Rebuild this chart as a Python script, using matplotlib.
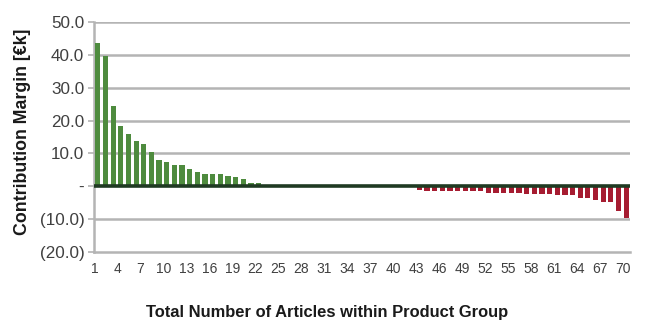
import matplotlib
matplotlib.use("Agg")
import matplotlib.pyplot as plt
from matplotlib.ticker import FuncFormatter, FixedLocator

# Contribution margin per article, sorted from best to worst [€k]
articles = list(range(1, 71))
margins = [
    43.5, 39.7, 24.5, 18.4, 16.0, 13.8, 12.9, 10.5, 8.0, 7.4,
    6.5, 6.4, 5.2, 4.5, 3.6, 3.6, 3.6, 3.0, 2.7, 2.1,
    0.9, 0.9, 0.0, 0.0, 0.0, 0.0, 0.0, 0.0, 0.0, 0.0,
    0.0, 0.0, 0.0, 0.0, 0.0, 0.0, 0.0, 0.0, 0.0, 0.0,
    0.0, 0.0, -1.0, -1.3, -1.3, -1.3, -1.3, -1.3, -1.3, -1.3,
    -1.3, -1.9, -1.9, -1.9, -1.9, -1.9, -2.2, -2.2, -2.2, -2.2,
    -2.8, -2.8, -2.8, -3.7, -3.7, -4.1, -4.7, -4.7, -7.4, -9.5,
]
x_tick_labels = [str(n) for n in range(1, 71, 3)]
y_ticks = [-20, -10, 0, 10, 20, 30, 40, 50]

green = "#4E8B3E"
red = "#A61C31"
grid_grey = "#B4B4B4"
text_col = "#404040"

fig = plt.figure(figsize=(6.47, 3.25), dpi=100)
ax = fig.add_axes([94 / 647, 1 - 252 / 325, (630 - 94) / 647, 230 / 325])

colors = [green if v >= 0 else red for v in margins]
ax.bar(articles, margins, width=0.68, color=colors, zorder=3, linewidth=0)

ax.set_xlim(0.5, 70.5)
ax.set_ylim(-20, 50)

# horizontal gridlines and a heavy zero line
ax.yaxis.set_major_locator(FixedLocator(y_ticks))
for t in y_ticks:
    if t not in (0, -20):
        ax.axhline(t, color=grid_grey, lw=1.8, zorder=1)
ax.axhline(0, color="#1F3A22", lw=2.6, zorder=4)

def fmt(v, pos):
    if abs(v) < 1e-9:
        return "-"
    if v < 0:
        return f"({abs(v):.1f})"
    return f"{v:.1f}"

ax.yaxis.set_major_formatter(FuncFormatter(fmt))

tick_pos = [int(s) - 0.45 for s in x_tick_labels]
ax.set_xticks(tick_pos)
ax.set_xticklabels(x_tick_labels)

for side in ("top", "right"):
    ax.spines[side].set_visible(False)
ax.spines["left"].set_color(grid_grey)
ax.spines["left"].set_linewidth(1.8)
ax.spines["bottom"].set_color(grid_grey)
ax.spines["bottom"].set_linewidth(1.8)

ax.tick_params(axis="y", length=4, width=1.2, color=grid_grey, pad=3,
               labelsize=12.3, labelcolor=text_col)
ax.tick_params(axis="x", length=0, pad=7, labelsize=10, labelcolor=text_col)
for lab in ax.get_xticklabels() + ax.get_yticklabels():
    lab.set_family("Liberation Sans")

fig.text(23 / 647, 1 - 132 / 325, "Contribution Margin [€k]", rotation=90,
         ha="center", va="center", fontsize=12.8, fontweight="bold",
         family="Liberation Sans", color="#1A1A1A")
fig.text(327 / 647, 1 - 313 / 325, "Total Number of Articles within Product Group",
         ha="center", va="center", fontsize=11.9, fontweight="bold",
         family="Liberation Sans", color="#1A1A1A")

fig.savefig("out.png", dpi=100, facecolor="white")
